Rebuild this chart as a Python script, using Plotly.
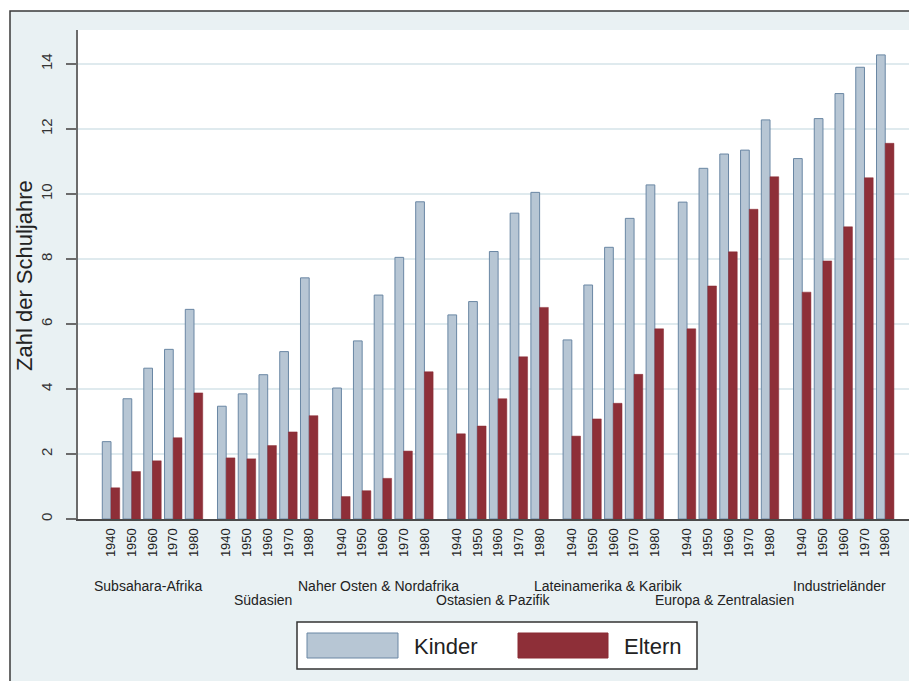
import plotly.graph_objects as go

# ---------------- data ----------------
regions = ["Subsahara-Afrika", "Südasien", "Naher Osten & Nordafrika",
           "Ostasien & Pazifik", "Lateinamerika & Karibik",
           "Europa & Zentralasien", "Industrieländer"]
years = ["1940", "1950", "1960", "1970", "1980"]

kinder_subsahara = [2.38, 3.70, 4.64, 5.22, 6.45]
kinder_suedasien = [3.47, 3.85, 4.44, 5.15, 7.42]
kinder_nahost = [4.03, 5.48, 6.89, 8.05, 9.76]
kinder_ostasien = [6.28, 6.69, 8.23, 9.41, 10.05]
kinder_latein = [5.51, 7.20, 8.36, 9.25, 10.28]
kinder_europa = [9.75, 10.79, 11.23, 11.35, 12.28]
kinder_industrie = [11.09, 12.32, 13.09, 13.90, 14.28]

eltern_subsahara = [0.96, 1.46, 1.79, 2.50, 3.88]
eltern_suedasien = [1.88, 1.85, 2.26, 2.68, 3.18]
eltern_nahost = [0.69, 0.87, 1.25, 2.09, 4.53]
eltern_ostasien = [2.62, 2.86, 3.70, 4.99, 6.51]
eltern_latein = [2.55, 3.08, 3.56, 4.45, 5.85]
eltern_europa = [5.85, 7.17, 8.22, 9.53, 10.53]
eltern_industrie = [6.98, 7.94, 8.99, 10.50, 11.56]

kinder = [kinder_subsahara, kinder_suedasien, kinder_nahost, kinder_ostasien,
          kinder_latein, kinder_europa, kinder_industrie]
eltern = [eltern_subsahara, eltern_suedasien, eltern_nahost, eltern_ostasien,
          eltern_latein, eltern_europa, eltern_industrie]

y_ticks = [0, 2, 4, 6, 8, 10, 12, 14]

# ---------------- layout helpers ----------------
OFF = 8                                # default page body margin
SCR_W, SCR_H = 917, 681
L, R, T, B = 78, 917, 30, 519          # plot area in screen pixels
PW, PH = R - L, B - T
GROUP_STEP = 5.552                     # distance between groups (in pair units)
BAR_W = 0.42
PAIR_PX = 20.75


def px_x(x):
    return (x - L) / PW


def px_y(y):
    return (B - y) / PH


xs, kv, ev, tickvals, ticktext = [], [], [], [], []
for g, reg in enumerate(regions):
    for i, yr in enumerate(years):
        pos = g * GROUP_STEP + i
        xs.append(pos)
        kv.append(kinder[g][i])
        ev.append(eltern[g][i])
        tickvals.append(pos)
        ticktext.append(yr)

FONT = "Liberation Sans, Arial, sans-serif"
BG = "#e9f1f3"
K_FILL, K_LINE = "#b7c6d4", "#6a87a4"
E_FILL, E_LINE = "#8e2f38", "#8a2a33"

fig = go.Figure()
fig.add_trace(go.Bar(x=xs, y=kv, name="Kinder", width=BAR_W, offset=-BAR_W,
                     marker=dict(color=K_FILL, line=dict(color=K_LINE, width=1))))
fig.add_trace(go.Bar(x=xs, y=ev, name="Eltern", width=BAR_W, offset=0,
                     marker=dict(color=E_FILL, line=dict(color=E_LINE, width=0.5))))

x_range = [-(111 - L) / PAIR_PX, (R - 111) / PAIR_PX]

fig.update_layout(
    width=SCR_W - OFF, height=SCR_H - OFF,
    margin=dict(l=L - OFF, r=0, t=T - OFF, b=SCR_H - B, pad=0),
    paper_bgcolor=BG, plot_bgcolor="white",
    barmode="overlay", showlegend=False,
    font=dict(family=FONT, color="#222"),
    xaxis=dict(range=x_range, tickvals=tickvals, ticktext=ticktext,
               tickangle=-90, tickfont=dict(size=13, color="#222"),
               showgrid=False, zeroline=False, showline=True,
               linecolor="#4a4a4a", linewidth=2, ticks="",
               ticklabelstandoff=2),
    yaxis=dict(range=[0, 15.046], tickvals=y_ticks,
               ticktext=[str(v) for v in y_ticks],
               tickangle=-90, tickfont=dict(size=15, color="#333"),
               showgrid=True, gridcolor="#dfeaee", gridwidth=1.5,
               zeroline=False, showline=True, linecolor="#6b6b6b",
               linewidth=2, ticks="outside", ticklen=10, tickwidth=2,
               tickcolor="#6b6b6b", ticklabelstandoff=8),
)

shapes = []
# white margin outside the outer frame
shapes.append(dict(type="rect", xref="paper", yref="paper",
                   x0=px_x(-5), x1=px_x(10), y0=px_y(700), y1=px_y(-5),
                   fillcolor="white", line=dict(width=0), layer="above"))
shapes.append(dict(type="rect", xref="paper", yref="paper",
                   x0=px_x(-5), x1=px_x(925), y0=px_y(11), y1=px_y(-5),
                   fillcolor="white", line=dict(width=0), layer="above"))
# outer frame line
shapes.append(dict(type="rect", xref="paper", yref="paper",
                   x0=px_x(10), x1=px_x(940), y0=px_y(700), y1=px_y(11),
                   fillcolor="rgba(0,0,0,0)", line=dict(color="#3a3a3a", width=1.5),
                   layer="above"))
# legend box
shapes.append(dict(type="rect", xref="paper", yref="paper",
                   x0=px_x(297), x1=px_x(697), y0=px_y(669), y1=px_y(622),
                   fillcolor="white", line=dict(color="#333", width=1.5), layer="above"))
shapes.append(dict(type="rect", xref="paper", yref="paper",
                   x0=px_x(307), x1=px_x(398), y0=px_y(658), y1=px_y(633),
                   fillcolor=K_FILL, line=dict(color=K_LINE, width=1), layer="above"))
shapes.append(dict(type="rect", xref="paper", yref="paper",
                   x0=px_x(518), x1=px_x(608), y0=px_y(658), y1=px_y(633),
                   fillcolor=E_FILL, line=dict(color=E_LINE, width=1), layer="above"))

annotations = []
# y title
annotations.append(dict(text="Zahl der Schuljahre", xref="paper", yref="paper",
                        x=px_x(24), y=px_y(276), textangle=-90, showarrow=False,
                        xanchor="center", yanchor="middle",
                        font=dict(size=22, color="#222", family=FONT)))
# region labels (staggered)
for g, reg in enumerate(regions):
    row_y = 586 if g % 2 == 0 else 600
    annotations.append(dict(text=reg, xref="x", yref="paper",
                            x=g * GROUP_STEP + 2 - 0.21, y=px_y(row_y),
                            showarrow=False, xanchor="center", yanchor="middle",
                            font=dict(size=14, color="#222", family=FONT)))
# legend labels
annotations.append(dict(text="Kinder", xref="paper", yref="paper",
                        x=px_x(412), y=px_y(646), xanchor="left", yanchor="middle",
                        showarrow=False, font=dict(size=22, color="#222", family=FONT)))
annotations.append(dict(text="Eltern", xref="paper", yref="paper",
                        x=px_x(622), y=px_y(646), xanchor="left", yanchor="middle",
                        showarrow=False, font=dict(size=22, color="#222", family=FONT)))

fig.update_layout(shapes=shapes, annotations=annotations)

fig.write_html("out.html")
